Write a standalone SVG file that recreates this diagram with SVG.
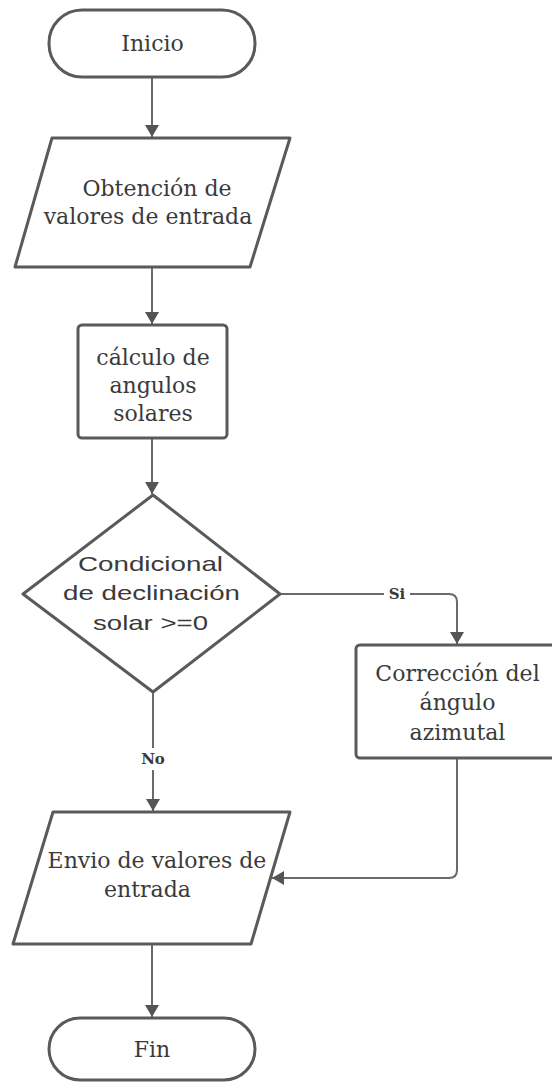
<svg xmlns="http://www.w3.org/2000/svg" width="552" height="1082" viewBox="0 0 552 1082">
<style>
.shape{fill:#fff;stroke:#5a5a5a;stroke-width:3;stroke-linejoin:round}
.conn{fill:none;stroke:#6a6a6a;stroke-width:2}
.serif{font-family:"DejaVu Serif","Liberation Serif",serif;font-size:22px;fill:#3a3a3a;text-anchor:middle}
.sans{font-family:"Liberation Sans",Arial,sans-serif;font-size:21px;fill:#3a3a3a;text-anchor:middle}
.lbl{font-family:"DejaVu Serif","Liberation Serif",serif;font-size:15px;font-weight:bold;fill:#3a3a3a;text-anchor:middle}
</style>
<defs>
<marker id="arr" viewBox="0 0 12 14" refX="12" refY="7" markerWidth="12" markerHeight="14" markerUnits="userSpaceOnUse" orient="auto">
<path d="M0,0 L12,7 L0,14 Z" fill="#555"/>
</marker>
</defs>
<rect width="552" height="1082" fill="#fff"/>
<g id="connectors">
<path class="conn" d="M152,78 V137" marker-end="url(#arr)"/>
<path class="conn" d="M152,267 V324" marker-end="url(#arr)"/>
<path class="conn" d="M152,438 V494" marker-end="url(#arr)"/>
<path class="conn" d="M280,594 H449 Q457,594 457,602 V644" marker-end="url(#arr)"/>
<path class="conn" d="M153,692 V811" marker-end="url(#arr)"/>
<path class="conn" d="M457,758 V870 Q457,878 449,878 H272" marker-end="url(#arr)"/>
<path class="conn" d="M152,944 V1017" marker-end="url(#arr)"/>
<rect x="384" y="585" width="26" height="18" fill="#fff"/>
<text class="lbl" x="397" y="599">Si</text>
<rect x="138" y="748" width="30" height="22" fill="#fff"/>
<text class="lbl" x="153" y="764">No</text>
</g>
<g id="inicio">
<rect class="shape" x="49" y="10" width="206" height="67" rx="33" ry="33"/>
<text class="serif" x="152.5" y="51">Inicio</text>
</g>
<g id="obtencion">
<path class="shape" d="M52,138 L290,138 L250,267 L15,267 Z"/>
<text class="serif" x="157" y="196">Obtención de</text>
<text class="serif" x="148" y="224">valores de entrada</text>
</g>
<g id="calculo">
<rect class="shape" x="78" y="325" width="149" height="113" rx="4"/>
<text class="serif" x="153" y="365">cálculo de</text>
<text class="serif" x="153" y="393">angulos</text>
<text class="serif" x="153" y="421">solares</text>
</g>
<g id="condicional">
<path class="shape" d="M153,495 L280,594 L153,692 L23,594 Z"/>
<text class="sans" x="150.5" y="571" textLength="145" lengthAdjust="spacingAndGlyphs">Condicional</text>
<text class="sans" x="151.5" y="600" textLength="177" lengthAdjust="spacingAndGlyphs">de declinación</text>
<text class="sans" x="150.5" y="630" textLength="115" lengthAdjust="spacingAndGlyphs">solar &gt;=0</text>
</g>
<g id="correccion">
<rect class="shape" x="356" y="645" width="202" height="113" rx="4"/>
<text class="serif" x="457.5" y="681">Corrección del</text>
<text class="serif" x="457.5" y="710">ángulo</text>
<text class="serif" x="457.5" y="740">azimutal</text>
</g>
<g id="envio">
<path class="shape" d="M53,812 L290,812 L251,944 L13,944 Z"/>
<text class="serif" x="157" y="868">Envio de valores de</text>
<text class="serif" x="147.5" y="897">entrada</text>
</g>
<g id="fin">
<rect class="shape" x="49" y="1018" width="206" height="62" rx="31" ry="31"/>
<text class="serif" x="152" y="1057">Fin</text>
</g>
</svg>
